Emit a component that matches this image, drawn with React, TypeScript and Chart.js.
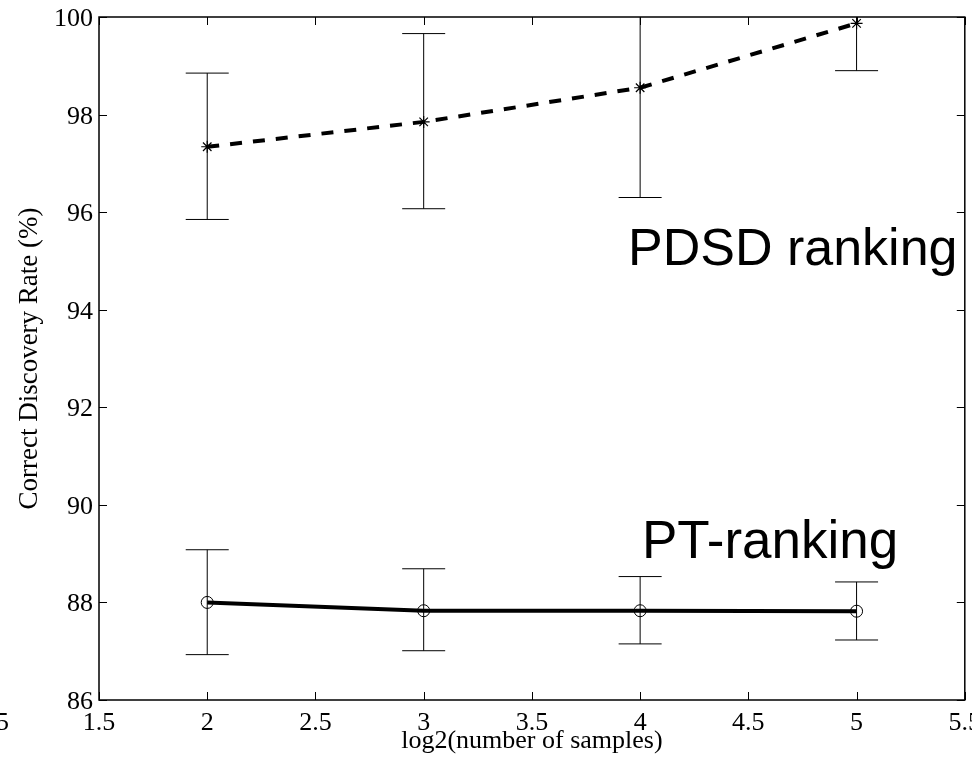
import React, { useEffect, useRef } from "react";
import { Chart, registerables } from "chart.js";

Chart.register(...registerables);

const sampleLog2 = [2, 3, 4, 5];
const pdsdMean = [97.34, 97.85, 98.55, 99.87];
const pdsdLow = [95.85, 96.07, 96.3, 98.9];
const pdsdHigh = [98.85, 99.66, 100.8, 100.84];
const ptMean = [88.0, 87.83, 87.83, 87.82];
const ptLow = [86.93, 87.01, 87.15, 87.23];
const ptHigh = [89.08, 88.69, 88.53, 88.42];

const xTickValues = [1.5, 2, 2.5, 3, 3.5, 4, 4.5, 5, 5.5];
const xTickLabels = ["1.5", "2", "2.5", "3", "3.5", "4", "4.5", "5", "5.5"];
const yTickValues = [86, 88, 90, 92, 94, 96, 98, 100];
const yTickLabels = ["86", "88", "90", "92", "94", "96", "98", "100"];

const xTitle = "log2(number of samples)";
const yTitle = "Correct Discovery Rate (%)";
const pdsdLabel = "PDSD ranking";
const ptLabel = "PT-ranking";

const W = 972;
const H = 763;

const serif = '"Liberation Serif", "Times New Roman", serif';
const sans = '"Liberation Sans", Arial, sans-serif';

const errorBarPlugin = {
  id: "errorBars",
  beforeDatasetsDraw(chart: any) {
    const { ctx, chartArea, scales } = chart;
    const x = scales.x;
    const y = scales.y;
    const groups = [
      { low: pdsdLow, high: pdsdHigh },
      { low: ptLow, high: ptHigh },
    ];
    ctx.save();
    ctx.beginPath();
    ctx.rect(chartArea.left, chartArea.top, chartArea.right - chartArea.left, chartArea.bottom - chartArea.top);
    ctx.clip();
    ctx.strokeStyle = "#000";
    ctx.lineWidth = 1;
    const half = 21.5;
    groups.forEach((g) => {
      sampleLog2.forEach((v, i) => {
        const px = x.getPixelForValue(v);
        const pl = y.getPixelForValue(g.low[i]);
        const ph = y.getPixelForValue(g.high[i]);
        ctx.beginPath();
        ctx.moveTo(px, ph);
        ctx.lineTo(px, pl);
        ctx.moveTo(px - half, ph);
        ctx.lineTo(px + half, ph);
        ctx.moveTo(px - half, pl);
        ctx.lineTo(px + half, pl);
        ctx.stroke();
      });
    });
    ctx.restore();
  },
};

const framePlugin = {
  id: "frame",
  afterDraw(chart: any) {
    const { ctx, chartArea, scales } = chart;
    const x = scales.x;
    const y = scales.y;
    const { left, right, top, bottom } = chartArea;
    ctx.save();
    ctx.strokeStyle = "#000";
    ctx.lineWidth = 1;
    const tl = 8;
    ctx.beginPath();
    xTickValues.forEach((v) => {
      const px = Math.round(x.getPixelForValue(v)) + 0.5;
      ctx.moveTo(px, bottom);
      ctx.lineTo(px, bottom - tl);
      ctx.moveTo(px, top);
      ctx.lineTo(px, top + tl);
    });
    yTickValues.forEach((v) => {
      const py = Math.round(y.getPixelForValue(v)) + 0.5;
      ctx.moveTo(left, py);
      ctx.lineTo(left + tl, py);
      ctx.moveTo(right, py);
      ctx.lineTo(right - tl, py);
    });
    ctx.stroke();
    ctx.lineWidth = 1.5;
    ctx.strokeRect(left, top, right - left, bottom - top);

    ctx.fillStyle = "#000";
    ctx.font = `26px ${serif}`;
    ctx.textAlign = "center";
    ctx.textBaseline = "alphabetic";
    xTickValues.forEach((v, i) => {
      const px = x.getPixelForValue(v);
      ctx.fillText(xTickLabels[i], px, 730);
      if (i === xTickValues.length - 1) {
        ctx.fillText(xTickLabels[i], px - W, 730);
      }
    });
    ctx.textAlign = "right";
    yTickValues.forEach((v, i) => {
      const py = y.getPixelForValue(v);
      ctx.fillText(yTickLabels[i], 93, py + 9);
    });

    ctx.textAlign = "center";
    ctx.textBaseline = "middle";
    ctx.fillText(xTitle, (left + right) / 2, 741);
    ctx.save();
    ctx.font = `27px ${serif}`;
    ctx.translate(30, (top + bottom) / 2);
    ctx.rotate(-Math.PI / 2);
    ctx.fillText(yTitle, 0, 0);
    ctx.restore();

    ctx.textAlign = "left";
    ctx.textBaseline = "alphabetic";
    ctx.font = `52px ${sans}`;
    ctx.fillText(pdsdLabel, 628, 265);
    ctx.font = `53px ${sans}`;
    ctx.fillText(ptLabel, 642, 558);
    ctx.restore();
  },
};

export default function App() {
  const ref = useRef<HTMLCanvasElement | null>(null);
  useEffect(() => {
    if (!ref.current) return;
    const chart = new Chart(ref.current, {
      type: "line",
      data: {
        datasets: [
          {
            label: pdsdLabel,
            data: sampleLog2.map((v, i) => ({ x: v, y: pdsdMean[i] })),
            borderColor: "#000",
            borderWidth: 4,
            borderDash: [12, 11],
            pointStyle: "star",
            pointRadius: 6,
            pointBorderWidth: 1.2,
            pointBorderColor: "#000",
            pointBackgroundColor: "#000",
            fill: false,
            tension: 0,
          },
          {
            label: ptLabel,
            data: sampleLog2.map((v, i) => ({ x: v, y: ptMean[i] })),
            borderColor: "#000",
            borderWidth: 4,
            pointStyle: "circle",
            pointRadius: 6,
            pointBorderWidth: 1,
            pointBorderColor: "#000",
            pointBackgroundColor: "rgba(0,0,0,0)",
            fill: false,
            tension: 0,
          },
        ],
      },
      options: {
        responsive: false,
        animation: false,
        devicePixelRatio: 1,
        layout: { padding: { left: 99, right: 6, top: 17, bottom: 63 } },
        plugins: {
          legend: { display: false },
          tooltip: { enabled: false },
        },
        scales: {
          x: { type: "linear", min: 1.5, max: 5.5, display: false },
          y: { type: "linear", min: 86, max: 100, display: false },
        },
      },
      plugins: [errorBarPlugin, framePlugin],
    });
    return () => chart.destroy();
  }, []);
  return (
    <div style={{ position: "fixed", left: 0, top: 0, width: W, height: H, background: "#fff" }}>
      <canvas ref={ref} width={W} height={H} style={{ width: W, height: H, display: "block" }} />
    </div>
  );
}
